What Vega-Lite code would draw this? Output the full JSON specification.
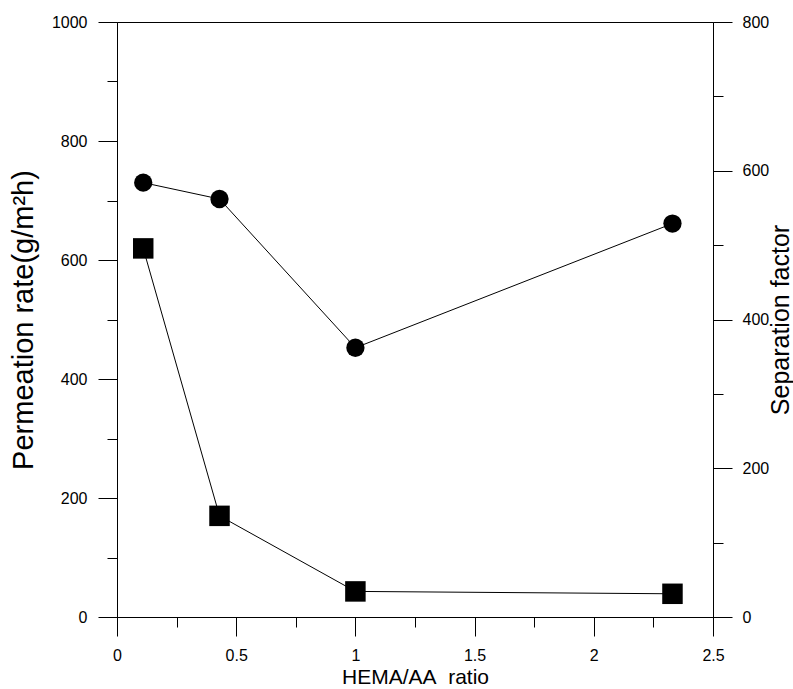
{
  "$schema": "https://vega.github.io/schema/vega-lite/v6.json",
  "width": 596,
  "height": 595,
  "autosize": "none",
  "padding": {"left": 117, "top": 22, "right": 80, "bottom": 72},
  "background": "white",
  "config": {
    "view": {"stroke": "black", "strokeWidth": 1},
    "font": "Liberation Sans",
    "axis": {
      "domainColor": "black",
      "domainWidth": 1,
      "tickColor": "black",
      "tickWidth": 1,
      "labelColor": "black",
      "labelFontSize": 16,
      "labelFont": "Liberation Sans",
      "titleFont": "Liberation Sans",
      "titleFontSize": 25,
      "titleFontWeight": "normal",
      "titleColor": "black",
      "grid": false
    }
  },
  "datasets": {
    "perm": [
      {"ratio": 0.11, "rate": 619.5},
      {"ratio": 0.43, "rate": 170},
      {"ratio": 1.0, "rate": 43},
      {"ratio": 2.33, "rate": 39}
    ],
    "sep": [
      {"ratio": 0.11, "factor": 584},
      {"ratio": 0.43, "factor": 562},
      {"ratio": 1.0, "factor": 362},
      {"ratio": 2.33, "factor": 529}
    ]
  },
  "layer": [
    {
      "data": {"name": "perm"},
      "encoding": {
        "x": {
          "field": "ratio",
          "type": "quantitative",
          "scale": {"domain": [0, 2.5], "nice": false, "zero": false},
          "axis": {
            "title": "HEMA/AA\u00a0 ratio",
            "titleFontSize": 21,
            "values": [0, 0.25, 0.5, 0.75, 1, 1.25, 1.5, 1.75, 2, 2.25, 2.5],
            "labelExpr": "datum.value % 0.5 === 0 ? '' + datum.value : ''",
            "tickSize": {"condition": {"test": "datum.value % 0.5 === 0", "value": 19}, "value": 10},
            "labelPadding": 11,
            "titlePadding": 3,
            "labelFlush": false,
            "labelOverlap": false
          }
        },
        "y": {
          "field": "rate",
          "type": "quantitative",
          "scale": {"domain": [0, 1000], "nice": false},
          "axis": {
            "orient": "left",
            "title": "Permeation rate(g/m²h)",
            "titleFontSize": 29,
            "values": [0, 100, 200, 300, 400, 500, 600, 700, 800, 900, 1000],
            "labelExpr": "datum.value % 200 === 0 ? datum.label : ''",
            "format": "d",
            "tickSize": {"condition": {"test": "datum.value % 200 === 0", "value": 19}, "value": 10},
            "labelPadding": 11,
            "titlePadding": 13,
            "labelFlush": false,
            "labelOverlap": false
          }
        }
      },
      "layer": [
        {"mark": {"type": "line", "color": "black", "strokeWidth": 1}},
        {"mark": {"type": "point", "shape": "square", "filled": true, "color": "black", "opacity": 1, "size": 420}}
      ]
    },
    {
      "data": {"name": "sep"},
      "encoding": {
        "x": {"field": "ratio", "type": "quantitative", "scale": {"domain": [0, 2.5], "nice": false, "zero": false}},
        "y": {
          "field": "factor",
          "type": "quantitative",
          "scale": {"domain": [0, 800], "nice": false},
          "axis": {
            "orient": "right",
            "title": "Separation factor",
            "titleAngle": 270,
            "titleBaseline": "top",
            "values": [0, 100, 200, 300, 400, 500, 600, 700, 800],
            "labelExpr": "datum.value % 200 === 0 ? datum.label : ''",
            "format": "d",
            "tickSize": {"condition": {"test": "datum.value % 200 === 0", "value": 19}, "value": 10},
            "labelPadding": 10,
            "titlePadding": 0,
            "labelFlush": false,
            "labelOverlap": false
          }
        }
      },
      "layer": [
        {"mark": {"type": "line", "color": "black", "strokeWidth": 1}},
        {"mark": {"type": "point", "shape": "circle", "filled": true, "color": "black", "opacity": 1, "size": 335}}
      ]
    }
  ],
  "resolve": {"scale": {"y": "independent"}}
}
